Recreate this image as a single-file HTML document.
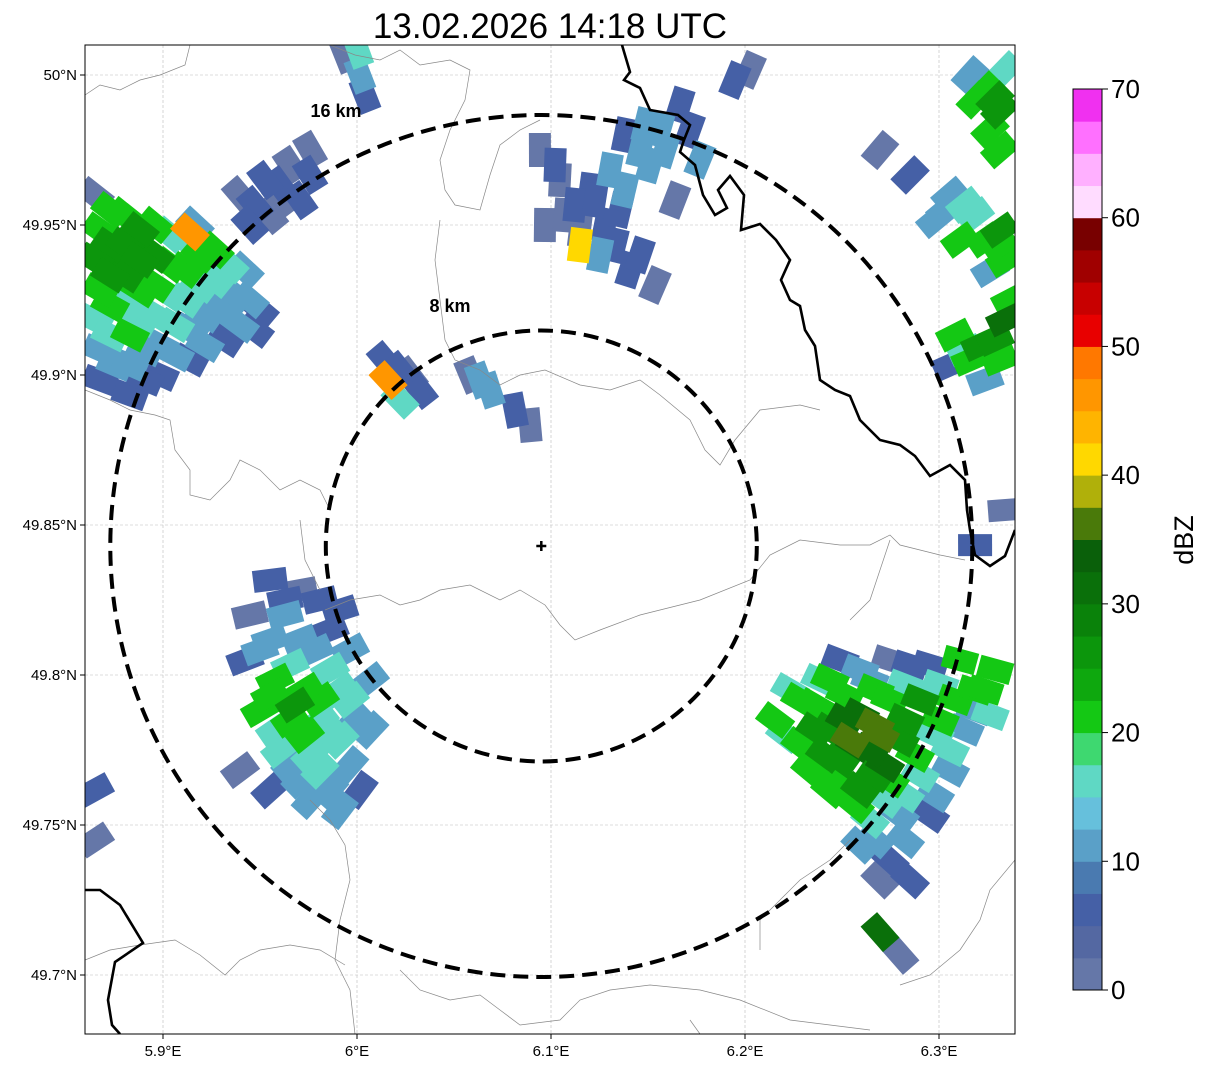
<!DOCTYPE html>
<html><head><meta charset="utf-8">
<style>
html,body{margin:0;padding:0;background:#fff;width:1207px;height:1069px;overflow:hidden;font-family:"Liberation Sans",sans-serif}
</style></head>
<body>
<svg id="chart" width="1207" height="1069" xmlns="http://www.w3.org/2000/svg">
<text x="550" y="38" font-size="35" text-anchor="middle" font-family="Liberation Sans, sans-serif">13.02.2026 14:18 UTC</text>
<defs><clipPath id="mapclip"><rect x="85" y="45" width="930" height="989"/></clipPath></defs>
<g id="grid"></g>
<g id="echoes" clip-path="url(#mapclip)"></g>
<g id="borders" clip-path="url(#mapclip)">
<path fill="none" stroke="#888" stroke-width="0.7" d="M85,95 L100,85 120,90 140,80 160,75 185,65 190,45 M330,45 L355,55 380,60 400,50 420,65 450,60 470,70 465,100 450,130 440,160 445,190 455,205 480,210 490,175 500,145 520,130 540,120 M440,220 L435,260 440,300 445,340 455,360 480,370 500,385 520,375 545,370 580,385 610,390 640,380 660,395 690,420 705,450 720,465 735,440 760,410 800,405 820,410 M85,390 L110,400 130,410 155,415 170,420 175,450 190,470 190,495 210,500 230,480 240,460 260,470 280,490 300,480 320,490 330,510 M325,610 L350,600 380,595 400,605 420,600 440,590 470,585 500,600 520,590 545,605 560,625 575,640 600,630 640,615 700,600 750,580 770,555 800,540 840,545 870,545 890,535 900,545 940,555 965,560 M300,520 L305,560 320,590 M310,800 L330,820 345,845 350,880 340,920 335,960 350,990 355,1034 M85,960 L110,950 140,945 175,940 200,955 225,975 240,960 260,950 290,945 320,950 345,965 M400,970 L420,990 450,1000 480,995 500,1010 520,1025 560,1020 580,1000 610,990 650,985 700,990 740,1000 790,1020 830,1025 870,1030 M700,1034 L690,1020 M850,840 L830,860 800,880 780,900 760,920 760,950 M1015,860 L990,890 980,920 960,950 930,975 900,985 M890,540 L880,570 870,600 850,620"/>
<path fill="none" stroke="#000" stroke-width="2.6" d="M622,45 L630,72 624,80 640,88 650,110 678,115 690,125 684,140 680,152 695,165 703,195 715,215 727,208 718,190 730,176 744,195 741,230 760,224 776,240 790,260 781,280 790,300 800,306 805,330 815,346 820,380 835,390 850,396 860,420 880,440 900,445 915,456 930,476 950,465 965,480 967,510 970,530 975,555 990,566 1005,556 1015,530"/>
<path fill="none" stroke="#000" stroke-width="2.6" d="M85,890 L100,890 120,905 143,943 115,962 108,1000 112,1025 120,1034"/>
</g>
<g id="rings"></g>
<rect x="85" y="45" width="930" height="989" fill="none" stroke="#000" stroke-width="1"/>
<g id="axes"></g>
<g id="colorbar"></g>
</svg>
<script>
// ---- data ----
const lonTicks = [5.9, 6.0, 6.1, 6.2, 6.3];
const lonLabels = ["5.9°E", "6°E", "6.1°E", "6.2°E", "6.3°E"];
const latTicks = [50.0, 49.95, 49.9, 49.85, 49.8, 49.75, 49.7];
const latLabels = ["50°N", "49.95°N", "49.9°N", "49.85°N", "49.8°N", "49.75°N", "49.7°N"];
const radarLon = 6.095, radarLat = 49.843;
const ringKm = [8, 16];
const cbTicks = [0, 10, 20, 30, 40, 50, 60, 70];
const cbColors = ["#6577a8","#5468a2","#4560a6","#4a7ab0","#5aa0c8","#66c0dc","#5fd8c4","#3ed870","#14c814","#10b810","#0ea80e","#0c960c","#0a820a","#0a700a","#0a600a","#4a7a0a","#b0b00a","#ffd800","#ffb400","#ff9600","#ff7800","#e80000","#c80000","#a00000","#780000","#ffdcff","#ffb0ff","#ff70ff","#f030f0"].filter((c,i)=>i!==9);
// radar cells: pixel-estimated positions (converted to lon/lat below), reflectivity dBZ
const cellsPx = [
[95,195,2],[100,230,20],[95,260,27],[100,290,22],[95,320,15],[100,350,12],[100,380,5],[125,215,22],[125,245,27],[125,275,25],[125,305,17],[130,335,20],[130,365,10],[130,395,5],[155,225,20],[155,255,25],[155,285,22],[155,315,17],[160,345,12],[160,375,5],[185,240,15],[185,270,22],[185,300,17],[190,330,12],[190,360,5],[215,250,20],[215,280,15],[220,310,12],[225,340,5],[245,270,10],[250,300,12],[255,330,5],[195,225,10],
[110,210,22],[110,245,25],[110,275,27],[110,305,20],[110,335,15],[115,365,10],[140,230,25],[140,260,27],[140,290,20],[140,320,15],[145,350,12],[145,380,5],[170,235,17],[170,265,22],[170,295,15],[175,325,15],[175,355,10],[200,255,20],[200,285,15],[205,315,12],[205,345,10],[230,265,15],[235,295,12],[240,325,10],[260,310,5],[280,185,5],[255,205,5],[280,200,2],[310,175,5],
[240,195,2],[265,180,5],[290,165,2],[300,200,5],[270,215,2],[310,150,2],[250,225,5],[190,232,47],
[345,55,2],[360,75,12],[365,95,5],[358,50,17],
[540,150,2],[560,180,2],[590,190,5],[610,170,10],[640,150,12],[660,130,10],[680,105,5],[620,210,5],[580,230,2],[600,255,10],[630,270,5],[655,285,2],[545,225,2],[595,200,7],[625,135,5],[675,200,2],[700,160,12],[735,80,5],[750,70,2],
[555,165,5],[575,205,5],[605,225,5],[625,190,10],[650,165,12],[665,150,12],[615,245,7],[640,255,5],[565,215,2],[645,125,10],[690,130,5],[580,245,42],
[385,360,5],[410,375,2],[420,390,5],[400,400,17],[470,375,2],[490,390,12],[515,410,5],[530,425,2],[400,370,5],[480,380,12],[388,380,47],
[985,90,20],[1000,110,27],[970,75,12],[990,130,22],[1005,70,17],[880,150,2],[910,175,5],[950,195,12],[975,215,15],[1000,230,27],[1005,260,22],[960,240,20],[935,220,10],[990,270,12],[955,335,20],[980,345,25],[1005,320,32],[1000,360,20],[950,365,5],[985,380,12],[1010,300,22],[975,545,5],[1005,510,2],
[975,100,20],[995,100,27],[1000,150,20],[965,205,15],[985,240,20],[1000,245,22],[945,210,12],[970,360,20],[995,340,27],[965,350,15],
[270,580,5],[300,590,2],[320,600,5],[250,615,2],[270,640,12],[300,640,10],[330,630,5],[245,660,5],[275,680,20],[305,690,22],[330,670,17],[350,650,10],[260,710,22],[290,720,20],[320,720,17],[350,700,15],[370,680,12],[280,750,15],[310,755,17],[340,740,15],[370,730,12],[300,780,12],[330,790,10],[360,790,5],[240,770,2],[270,790,5],[340,810,12],[95,790,5],[95,840,2],
[285,615,10],[260,650,12],[290,665,15],[315,650,12],[270,695,22],[295,705,25],[320,700,20],[340,690,15],[275,730,17],[305,735,20],[330,735,15],[355,720,12],[290,765,12],[320,770,15],[350,765,12],[310,800,10],[285,600,5],[340,610,5],
[775,720,20],[800,700,22],[830,680,20],[860,670,10],[890,660,2],[930,665,5],[960,660,20],[995,670,22],[800,745,22],[830,730,27],[860,715,30],[890,700,22],[920,700,27],[955,700,20],[990,715,17],[810,770,20],[840,760,25],[870,750,32],[900,740,25],[935,735,17],[965,730,12],[830,790,20],[860,790,27],[890,780,20],[920,775,15],[950,770,10],[870,820,17],[900,815,10],[930,815,5],[860,845,12],[890,860,5],[880,880,2],[910,880,5],[840,660,5],[790,690,15],
[815,705,20],[845,695,22],[875,690,20],[905,685,17],[940,685,15],[975,690,20],[785,735,17],[815,730,25],[845,720,30],[875,725,35],[905,720,25],[940,720,20],[975,710,12],[825,755,25],[855,745,32],[885,765,30],[915,755,22],[950,750,15],[845,780,22],[875,775,27],[905,795,17],[935,795,12],[855,805,20],[885,800,15],[875,840,12],[905,840,10],[820,680,15],[870,680,10],[910,665,5],[985,690,20],
[880,735,37],[850,740,37],[880,932,31],[900,955,2]
];
const cellLon = cellsPx.map(c => +(5.9 + (c[0]-163)/1940).toFixed(4));
const cellLat = cellsPx.map(c => +(50 - (c[1]-75)/3000).toFixed(4));
const cellDbz = cellsPx.map(c => c[2]);

// ---- scales ----
const X = lon => 163 + (lon - 5.9) * 1940;
const Y = lat => 75 + (50 - lat) * 3000;
const CBY = v => 990 - v * (901/70);
const NS = "http://www.w3.org/2000/svg";
function mk(tag, attrs, parent){const e=document.createElementNS(NS,tag);for(const k in attrs)e.setAttribute(k,attrs[k]);parent.appendChild(e);return e;}

const grid = document.getElementById('grid');
lonTicks.forEach(v=>{const l=mk('line',{x1:X(v),x2:X(v),y1:45,y2:1034,stroke:'#bbb','stroke-width':0.6,'stroke-dasharray':'3,2'},grid);

});
latTicks.forEach(v=>{const l=mk('line',{x1:85,x2:1015,y1:Y(v),y2:Y(v),stroke:'#bbb','stroke-width':0.6,'stroke-dasharray':'3,2'},grid);

});

const echoes = document.getElementById('echoes');
const cx0 = X(radarLon), cy0 = Y(radarLat);
function colorFor(d){let i=Math.floor(d/2.5);if(i<0)i=0;if(i>=cbColors.length)i=cbColors.length-1;return cbColors[i];}
const order = cellDbz.map((d,i)=>i).sort((a,b)=>cellDbz[a]-cellDbz[b]);
order.forEach(i=>{
  const x=X(cellLon[i]), y=Y(cellLat[i]);
  const ang = Math.atan2(y-cy0, x-cx0)*180/Math.PI;
  const r = mk('rect',{x:x-17,y:y-11,width:34,height:22,fill:colorFor(cellDbz[i]),transform:`rotate(${ang.toFixed(1)} ${x} ${y})`},echoes);
  
  
});

const rings = document.getElementById('rings');
const pxPerKm = 431/16;
const ringLabelPos = {8:[450,312],16:[336,117]};
ringKm.forEach(km=>{
  const c = mk('circle',{cx:cx0,cy:cy0,r:km*pxPerKm,fill:'none',stroke:'#000','stroke-width':4,'stroke-dasharray':'15,8'},rings);
  
  
  const p = ringLabelPos[km];
  const t = mk('text',{x:p[0],y:p[1],'font-size':18,'font-weight':'bold','text-anchor':'middle'},rings);
  t.textContent = km+' km';
  
  
});
const m = mk('path',{d:`M${cx0-5},${cy0} h10 M${cx0},${cy0-5} v10`,stroke:'#000','stroke-width':2.5},rings);



const axes = document.getElementById('axes');
lonTicks.forEach((v,i)=>{
  const tk=mk('line',{x1:X(v),x2:X(v),y1:1034,y2:1039,stroke:'#000'},axes);
  
  
  const t=mk('text',{x:X(v),y:1056,'font-size':15,'text-anchor':'middle'},axes);
  t.textContent=lonLabels[i];
  
  
});
latTicks.forEach((v,i)=>{
  const tk=mk('line',{x1:80,x2:85,y1:Y(v),y2:Y(v),stroke:'#000'},axes);
  
  
  const t=mk('text',{x:77,y:Y(v)+5,'font-size':15,'text-anchor':'end'},axes);
  t.textContent=latLabels[i];
  
  
});

const cb = document.getElementById('colorbar');
cbColors.forEach((c,i)=>{
  if(i*2.5>=70) return;
  const y1=CBY((i+1)*2.5), y0=CBY(i*2.5);
  const r=mk('rect',{x:1073,y:y1,width:29,height:y0-y1+0.5,fill:c},cb);
  
  
});
const fr=mk('rect',{x:1073,y:CBY(70),width:29,height:CBY(0)-CBY(70),fill:'none',stroke:'#000','stroke-width':1},cb);


cbTicks.forEach(v=>{
  const tk=mk('line',{x1:1102,x2:1108,y1:CBY(v),y2:CBY(v),stroke:'#000'},cb);
  
  
  const t=mk('text',{x:1111,y:CBY(v)+9,'font-size':26},cb);
  t.textContent=v;
  
  
});
const ct=mk('text',{x:1193,y:540,'font-size':27,'text-anchor':'middle',transform:'rotate(-90 1193 540)'},cb);
ct.textContent='dBZ';


</script>
</body></html>
